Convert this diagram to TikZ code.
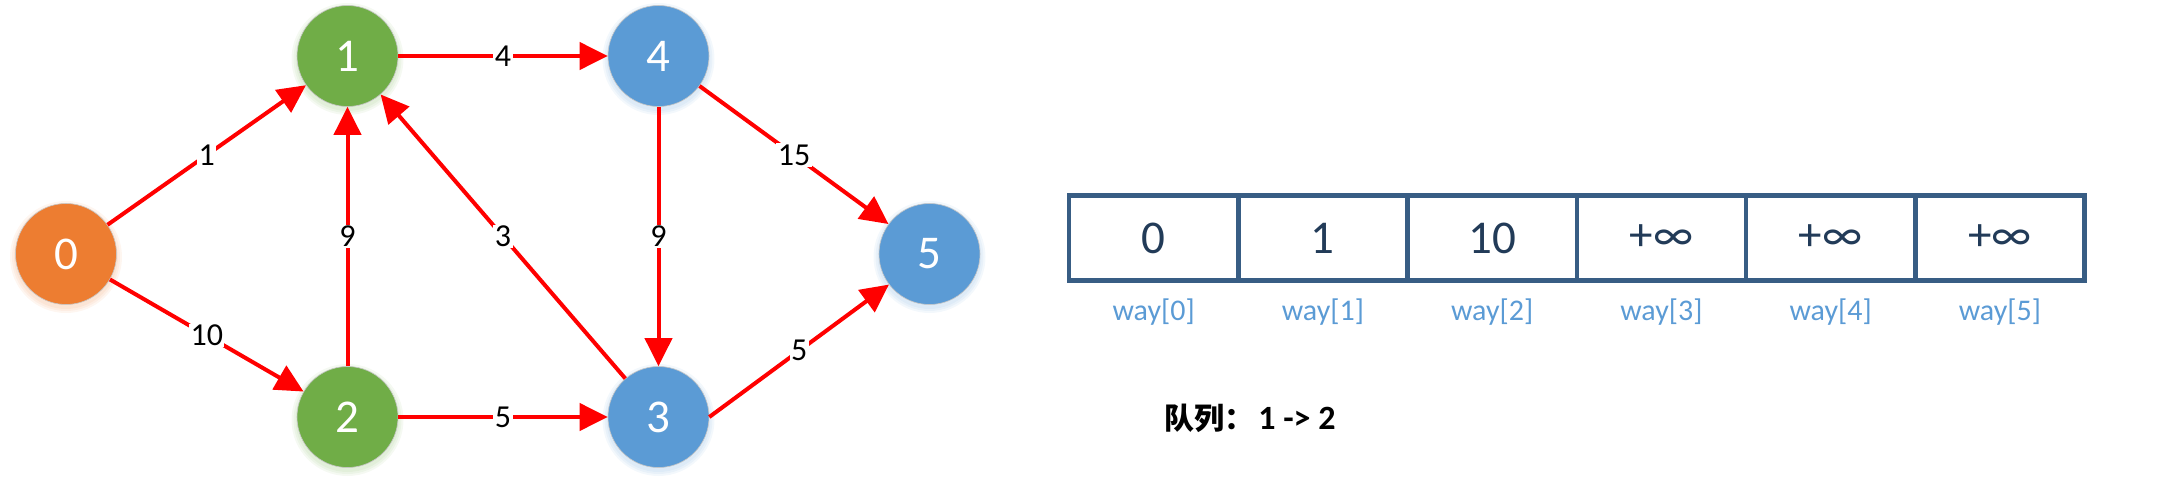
\documentclass[tikz,border=0pt]{standalone}
\usepackage{fontspec}
\setmainfont{Carlito}
\newfontfamily\cjk{Noto Sans CJK SC}
\usetikzlibrary{arrows.meta}
\definecolor{ornode}{HTML}{ED7D31}
\definecolor{grnode}{HTML}{70AD47}
\definecolor{blnode}{HTML}{5B9BD5}
\definecolor{tabline}{HTML}{385D84}
\definecolor{tabtext}{HTML}{223B58}
\definecolor{wayblue}{HTML}{5B9BD5}
\begin{document}
\begin{tikzpicture}[x=1pt,y=-1pt,
  vertex/.style={circle,minimum size=101pt,inner sep=0pt,fill=#1,draw=gray!45,line width=0.6pt,
    text=white,font=\fontsize{47}{50}\selectfont},
  glow/.style={fill=#1,opacity=0.07},
  edge/.style={draw=red,line width=4pt,-{Triangle[length=28pt,width=27pt]}},
  wlabel/.style={fill=white,inner sep=1.5pt,text=black,font=\fontsize{32}{34}\selectfont},
  cell/.style={draw=tabline,line width=4.5pt,minimum width=169.25pt,minimum height=85pt,
    inner sep=0pt,text=tabtext,font=\fontsize{47}{49}\selectfont},
  idx/.style={text=wayblue,font=\fontsize{30}{32}\selectfont},
  queue/.style={text=black,font=\fontsize{34}{36}\selectfont\bfseries}]
\useasboundingbox (0,0) rectangle (2158,490);

% soft glow beneath nodes
\foreach \px/\py/\c in {66/254/ornode,347.5/56/grnode,347.5/417/grnode,658.5/56/blnode,658.5/417/blnode,929.5/254/blnode}{
  \foreach \r in {52,54,56}{
    \fill[glow=\c] (\px,\py+3) circle (\r pt);
  }
}

\node[vertex=ornode] (n0) at (66,254) {0};
\node[vertex=grnode] (n1) at (347.5,56) {1};
\node[vertex=grnode] (n2) at (347.5,417) {2};
\node[vertex=blnode] (n4) at (658.5,56) {4};
\node[vertex=blnode] (n3) at (658.5,417) {3};
\node[vertex=blnode] (n5) at (929.5,254) {5};

\draw[edge] (n0) -- node[wlabel]{1} (n1);
\draw[edge] (n0) -- node[wlabel]{10} (n2);
\draw[edge] (n1) -- node[wlabel]{4} (n4);
\draw[edge] (n2) -- node[wlabel]{9} (n1);
\draw[edge] (n3) -- node[wlabel]{3} (n1);
\draw[edge] (n2) -- node[wlabel]{5} (n3);
\draw[edge] (n4) -- node[wlabel]{9} (n3);
\draw[edge] (n4) -- node[wlabel]{15} (n5);
\draw[edge] (n3.east) -- node[wlabel]{5} (n5.217);

% distance table
\foreach \i/\v in {0/0,1/1,2/10,3/{+∞},4/{+∞},5/{+∞}}{
  \node[cell] (c\i) at ({1069+169.25*(\i+0.5)},238) {\v};
  \node[idx] (w\i) at ({1069+169.25*(\i+0.5)},312) {way[\i]};
}

\node[queue] (q) at (1250,418) {{\cjk\fontsize{30}{32}\selectfont 队列：}\hspace{4pt}1 -> 2};
\end{tikzpicture}
\end{document}
